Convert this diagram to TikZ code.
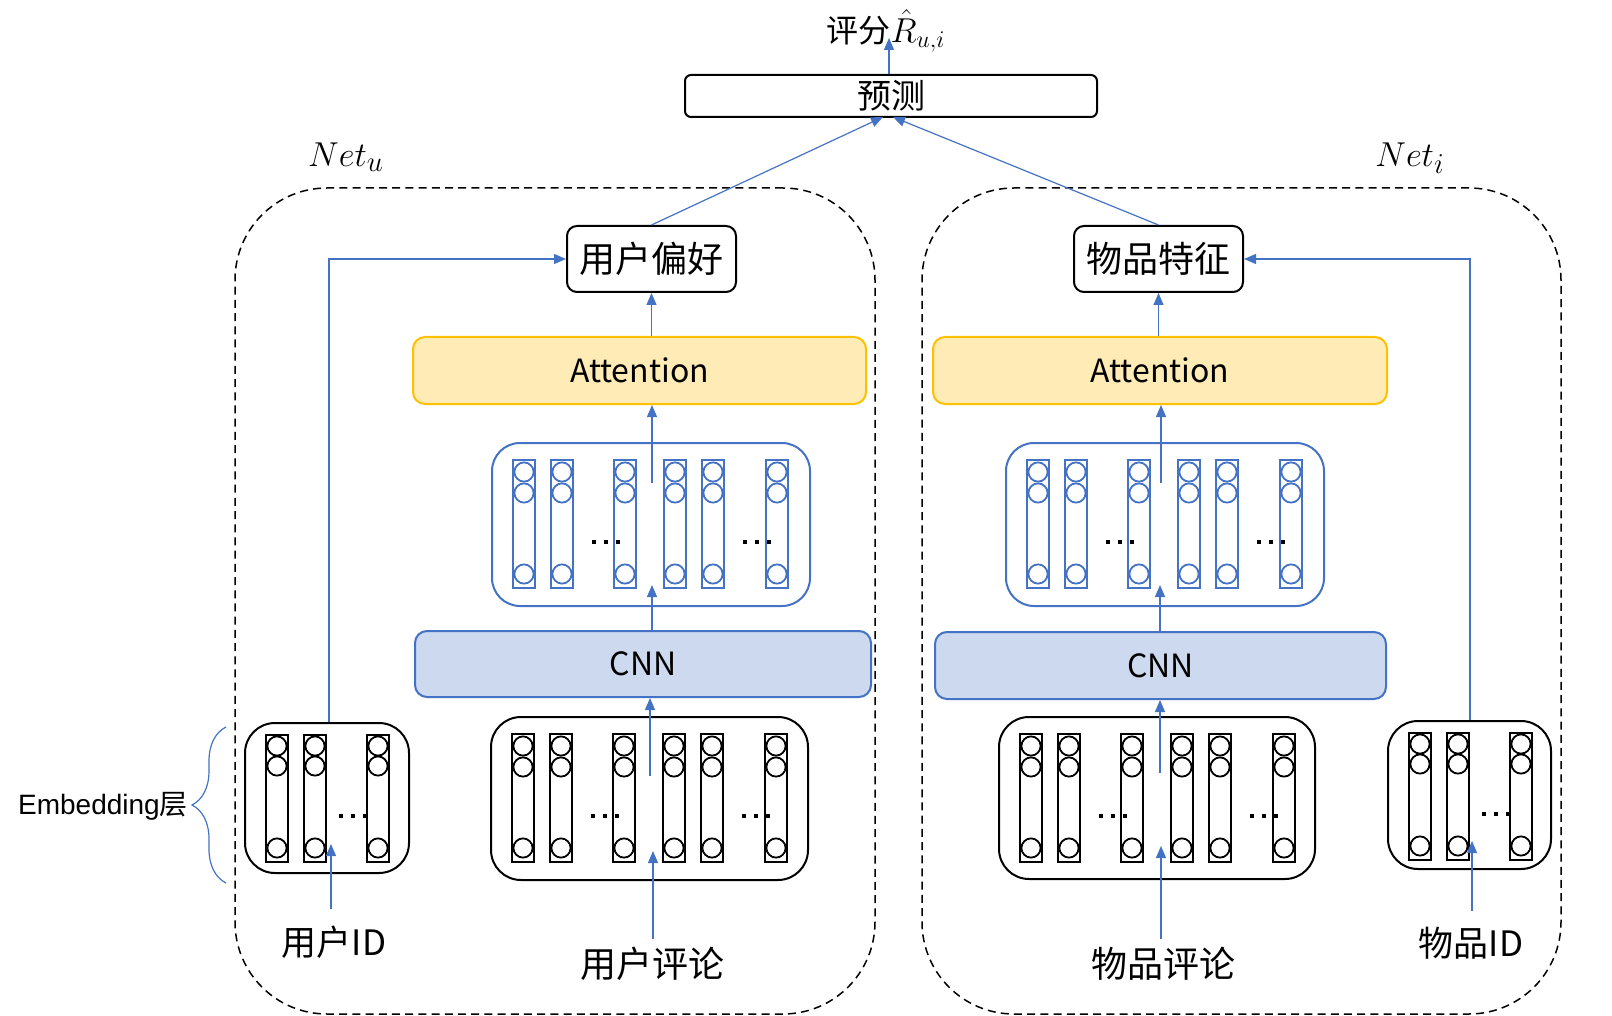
\documentclass[tikz,border=0pt]{standalone}
\usepackage{fontspec}
\setmainfont{Noto Sans CJK SC}
\newfontfamily\arialf{Liberation Sans}
\usetikzlibrary{arrows.meta,fit,decorations.pathreplacing}
\definecolor{myblue}{HTML}{4472C4}
\definecolor{cnnfill}{HTML}{CDD9EE}
\definecolor{attfill}{HTML}{FFEBB5}
\definecolor{attline}{HTML}{FFC000}
\newcommand{\sixcols}[3]{%
  \foreach \ox in {21,59,122,172,210,274}{%
    \draw[#3, line width=1pt] (#1+\ox,#2+17) rectangle ++(22,128);
    \foreach \cy in {29,50,131}{\draw[#3, line width=0.9pt] (#1+\ox+11,#2+\cy) circle[radius=4.8pt];}
  }
  \foreach \dx in {102,114,126,253,265,277}{\fill (#1+\dx-2,#2+97) rectangle ++(4,4);}
}
\newcommand{\threecols}[3]{%
  \foreach \ox in {21,59,122}{%
    \draw[#3, line width=1pt] (#1+\ox,#2+12) rectangle ++(22,127);
    \foreach \cy in {23,43,125}{\draw[#3, line width=0.9pt] (#1+\ox+11,#2+\cy) circle[radius=4.8pt];}
  }
  \foreach \dx in {96,108,120}{\fill (#1+\dx-2,#2+91) rectangle ++(4,4);}
}
\tikzset{
  blackbox/.style={draw=black, line width=1pt, rounded corners=5pt, inner sep=0pt},
  predbox/.style={draw=black, line width=1pt, rounded corners=3pt, inner sep=0pt},
  attbox/.style={draw=attline, fill=attfill, line width=1pt, rounded corners=6pt, inner sep=0pt},
  cnnbox/.style={draw=myblue, fill=cnnfill, line width=1pt, rounded corners=6pt, inner sep=0pt},
  fmapbox/.style={draw=myblue, line width=1pt, rounded corners=14pt, inner sep=0pt},
  embbox/.style={draw=black, line width=1pt, rounded corners=15pt, inner sep=0pt},
  netbox/.style={draw=black, line width=0.75pt, dash pattern=on 4pt off 2.6pt, rounded corners=46pt, inner sep=0pt},
  conn/.style={draw=myblue, line width=0.6pt, -{Triangle[length=6pt,width=5pt]}},
  big/.style={inner sep=0pt, font=\fontsize{18}{20}\selectfont},
  mid/.style={inner sep=0pt, font=\fontsize{16}{18}\selectfont},
  netlbl/.style={inner sep=0pt, font=\fontsize{19}{21}\selectfont},
}
\begin{document}
\begin{tikzpicture}[x=0.5pt,y=-0.5pt]
\useasboundingbox (0,0) rectangle (1612,1016);

% outer dashed nets
\node[netbox, fit={(235,188) (875,1014)}] (netu) {};
\node[netbox, fit={(922,188) (1561,1014)}] (neti) {};
\node[netlbl] (netulbl) at (346,157) {$Net_u$};
\node[netlbl] (netilbl) at (1410,158) {$Net_i$};

% top
\node[inner sep=0pt, font=\fontsize{16}{18}\selectfont] (score) at (886,31) {评分\fontsize{18}{20}\selectfont$\hat{R}_{u,i}$};
\node[predbox, fit={(685,75) (1097,117)}] (pred) {};
\node[inner sep=0pt, font=\fontsize{17}{19}\selectfont] at (pred.center) {预测};

% left column
\node[blackbox, fit={(567,226) (736,292)}] (upref) {};
\node[big] at (upref.center) {用户偏好};
\node[attbox, fit={(413,337) (866,404)}] (attL) {};
\node[mid] at (attL.center) {Attention};
\node[fmapbox, fit={(492,443) (810,606)}] (fmapL) {};
\sixcols{492}{443}{myblue}
\node[cnnbox, fit={(415,631) (871,697)}] (cnnL) {};
\node[mid] at (cnnL.center) {CNN};
\node[embbox, fit={(491,717) (808,880)}] (embL) {};
\sixcols{491}{717}{black}
\node[embbox, fit={(245,723) (409,873)}] (uid) {};
\threecols{245}{723}{black}
\node[inner sep=0pt, font=\fontsize{17.5}{19}\selectfont] (uidtxt) at (334,942) {用户ID};
\node[big] (urev) at (652,964) {用户评论};

% right column
\node[blackbox, fit={(1074,226) (1243,292)}] (ifeat) {};
\node[big] at (ifeat.center) {物品特征};
\node[attbox, fit={(933,337) (1387,404)}] (attR) {};
\node[mid] at (attR.center) {Attention};
\node[fmapbox, fit={(1006,443) (1324,606)}] (fmapR) {};
\sixcols{1006}{443}{myblue}
\node[cnnbox, fit={(935,632) (1386,699)}] (cnnR) {};
\node[mid] at (cnnR.center) {CNN};
\node[embbox, fit={(999,717) (1315,879)}] (embR) {};
\sixcols{999}{717}{black}
\node[embbox, fit={(1388,721) (1551,869)}] (iid) {};
\threecols{1388}{721}{black}
\node[inner sep=0pt, font=\fontsize{17.5}{19}\selectfont] (iidtxt) at (1471,943) {物品ID};
\node[big] (irev) at (1163,964) {物品评论};

% embedding brace
\draw[myblue, line width=0.6pt, decorate, decoration={brace, amplitude=17pt}] (226,883) -- (226,727);
\node[inner sep=0pt, font=\arialf\fontsize{14}{16}\selectfont] (emblbl) at (103,806) {Embedding{\fontspec{Noto Sans CJK SC}层}};

% free ends
\coordinate (scoreend) at (889,38);
\coordinate (pinL) at (883,117);
\coordinate (pinR) at (893,117);
\coordinate (fmLout) at (652,483);
\coordinate (fmLin) at (652,585);
\coordinate (emLout) at (650,776);
\coordinate (emLin) at (653,851);
\coordinate (uidin) at (331,844);
\coordinate (fmRout) at (1161,483);
\coordinate (fmRin) at (1160,585);
\coordinate (emRout) at (1160,773);
\coordinate (emRin) at (1161,846);
\coordinate (iidin) at (1472,841);

% connectors
\draw[conn] (pred.north -| scoreend) -- (scoreend);
\draw[conn] (upref.north) -- (pinL);
\draw[conn] (ifeat.north) -- (pinR);

\draw[conn] (attL.north -| upref.south) -- (upref.south);
\draw[conn] (fmLout) -- (fmLout |- attL.south);
\draw[conn] (cnnL.north -| fmLin) -- (fmLin);
\draw[conn] (emLout) -- (emLout |- cnnL.south);
\draw[conn] (urev.north -| emLin) ++(0,-8) -- (emLin);
\draw[conn] (uidtxt.north -| uidin) ++(0,-16) -- (uidin);
\draw[conn] (uid.north -| 329,0) |- (upref.west);

\draw[conn] (attR.north -| ifeat.south) -- (ifeat.south);
\draw[conn] (fmRout) -- (fmRout |- attR.south);
\draw[conn] (cnnR.north -| fmRin) -- (fmRin);
\draw[conn] (emRout) -- (emRout |- cnnR.south);
\draw[conn] (irev.north -| emRin) ++(0,-8) -- (emRin);
\draw[conn] (iidtxt.north -| iidin) ++(0,-16) -- (iidin);
\draw[conn] (iid.north -| 1470,0) |- (ifeat.east);
\end{tikzpicture}
\end{document}
